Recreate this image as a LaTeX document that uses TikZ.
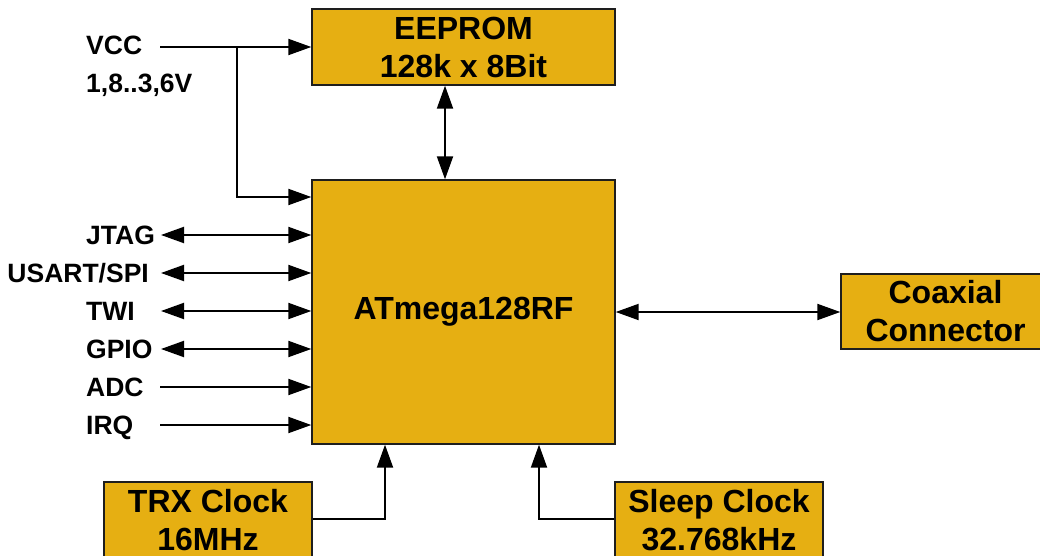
\documentclass[tikz,border=0pt]{standalone}
\usepackage{fontspec}
\setmainfont{Liberation Sans}
\usetikzlibrary{arrows.meta}
\definecolor{boxfill}{RGB}{230,175,18}
\definecolor{boxline}{RGB}{30,30,30}
\begin{document}
\begin{tikzpicture}[x=1pt,y=-1pt,
  >={Triangle[length=23pt,width=16pt]},
  blk/.style={draw=boxline,fill=boxfill,line width=1.4pt,inner sep=0pt,align=center,
    font=\fontsize{32}{38}\selectfont\bfseries},
  lbl/.style={inner sep=0pt,font=\fontsize{26.5}{30}\selectfont\bfseries},
  conn/.style={line width=2pt,black}]
\useasboundingbox (0,0) rectangle (1040,556);
\clip (0,0) rectangle (1040,556);
\fill[white] (0,0) rectangle (1040,556);

% blocks
\node[blk,minimum width=303pt,minimum height=76pt] (eeprom) at (463.5,47) {EEPROM\\128k x 8Bit};
\node[blk,minimum width=303pt,minimum height=264pt] (mcu) at (463.5,312) {ATmega128RF};
\node[blk,minimum width=209pt,minimum height=75pt] (coax) at (945.5,311.5) {Coaxial\\Connector};
\node[blk,minimum width=208pt,minimum height=76pt] (trx) at (208,520) {TRX Clock\\16MHz};
\node[blk,minimum width=208pt,minimum height=76pt] (sleep) at (719,520) {Sleep Clock\\32.768kHz};

% labels
\node[lbl,anchor=base west] (vcc) at (86,55) {VCC};
\node[lbl,anchor=base west] (vccrange) at (86,93) {1,8..3,6V};
\node[lbl,anchor=base west] (jtag) at (86,244) {JTAG};
\node[lbl,anchor=base east] (usart) at (149,282) {USART/SPI};
\node[lbl,anchor=base west] (twi) at (86,320) {TWI};
\node[lbl,anchor=base west] (gpio) at (86,358) {GPIO};
\node[lbl,anchor=base west] (adc) at (86,396) {ADC};
\node[lbl,anchor=base west] (irq) at (86,434) {IRQ};

% free ends
\coordinate (vccL) at (160,47);
\coordinate (vccB) at (237,47);
\coordinate (jtagL) at (161,235);
\coordinate (usartL) at (161,273);
\coordinate (twiL) at (161,311);
\coordinate (gpioL) at (161,349);
\coordinate (adcL) at (160,387);
\coordinate (irqL) at (160,425);

% connectors
\draw[conn,->] (vccL) -- (vccL -| eeprom.west);
\draw[conn,->] (vccB) |- (mcu.west |- 0,197);
\draw[conn,<->] (eeprom.south -| 445,0) -- (mcu.north -| 445,0);
\draw[conn,<->] (jtagL) -- (jtagL -| mcu.west);
\draw[conn,<->] (usartL) -- (usartL -| mcu.west);
\draw[conn,<->] (twiL) -- (twiL -| mcu.west);
\draw[conn,<->] (gpioL) -- (gpioL -| mcu.west);
\draw[conn,->] (adcL) -- (adcL -| mcu.west);
\draw[conn,->] (irqL) -- (irqL -| mcu.west);
\draw[conn,<->] (mcu.east |- 0,312) -- (coax.west |- 0,312);
\draw[conn,->] (trx.east |- 0,519) -| (mcu.south -| 385,0);
\draw[conn,->] (sleep.west |- 0,519) -| (mcu.south -| 539,0);
\end{tikzpicture}
\end{document}
